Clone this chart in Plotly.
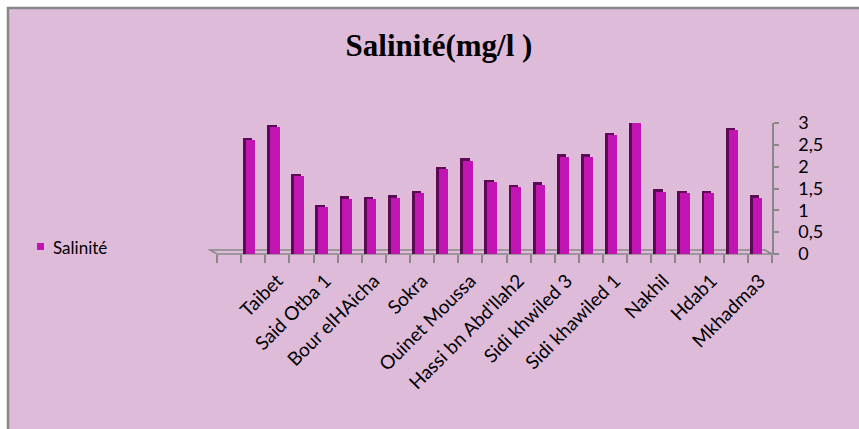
import plotly.graph_objects as go

# Sampling stations (every other name is printed on the axis)
stations = ["", "Taibet", "", "Said Otba 1", "", "Bour elHAicha", "", "Sokra",
            "", "Ouinet Moussa", "", "Hassi bn Abd'llah2", "", "Sidi khwiled 3",
            "", "Sidi khawiled 1", "", "Nakhil", "", "Hdab1", "", "Mkhadma3"]
salinity = [2.60, 2.90, 1.78, 1.08, 1.27, 1.25, 1.29, 1.40, 1.94, 2.14, 1.65,
            1.53, 1.59, 2.23, 2.23, 2.72, 3.00, 1.43, 1.39, 1.39, 2.83, 1.29]
y_ticks = [0, 0.5, 1, 1.5, 2, 2.5, 3]
series_name = "Salinité"

W, H = 859, 429
ML, MR, MT, MB = 217, 87, 123, 175
PW, PH = W - ML - MR, H - MT - MB

BG = "#DFBBDA"
BAR = "#C015B2"
BAR_SIDE = "#5C0A54"
GREY = "#888888"
SANS = "Lato"


def px(xp):
    return (xp - ML) / PW


def py(yp):
    return (H - MB - yp) / PH


x_pos = list(range(1, len(salinity) + 1))
depth = 0.05  # visible top/side face of the columns

fig = go.Figure()
fig.add_trace(go.Bar(
    x=x_pos, y=[v + depth for v in salinity], width=0.39, offset=-0.42,
    marker=dict(color=BAR_SIDE, line=dict(width=0)), showlegend=False,
    hoverinfo="skip"))
fig.add_trace(go.Bar(
    x=x_pos, y=salinity, width=0.39, offset=-0.30, name=series_name,
    marker=dict(color=BAR, line=dict(width=0)), showlegend=False))

shapes = [
    # chart area
    dict(type="rect", xref="paper", yref="paper", layer="below",
         x0=px(8), y0=py(8), x1=px(W + 30), y1=py(H + 30),
         fillcolor=BG, line=dict(color=GREY, width=2.5)),
    # floor of the plot
    dict(type="path", xref="paper", yref="paper", layer="below",
         path=(f"M {px(217)},{py(254)} L {px(772)},{py(254)} "
               f"L {px(765)},{py(250)} L {px(210)},{py(250)} Z"),
         line=dict(color=GREY, width=1.5)),
    # legend key
    dict(type="rect", xref="paper", yref="paper",
         x0=px(37), y0=py(250), x1=px(44), y1=py(243),
         fillcolor=BAR, line=dict(width=0)),
]

fig.update_layout(
    width=W, height=H,
    margin=dict(l=ML, r=MR, t=MT, b=MB),
    paper_bgcolor="white", plot_bgcolor="rgba(0,0,0,0)",
    separators=", ",
    barmode="overlay", bargap=0,
    showlegend=False,
    font=dict(family=SANS, size=17, color="black"),
    title=dict(text="<b>Salinité(mg/l )</b>", xref="container", yref="container",
               x=439 / W, y=1 - 45 / H, xanchor="center", yanchor="middle",
               font=dict(family="Liberation Serif", size=31, color="black")),
    shapes=shapes,
    annotations=[dict(text=series_name, xref="paper", yref="paper",
                      x=px(51), y=py(247), xanchor="left", yanchor="middle",
                      showarrow=False,
                      font=dict(family=SANS, size=17, color="black"))],
)

fig.update_xaxes(
    range=[-0.5, 22.5],
    tickvals=[x for x, s in zip(x_pos, stations) if s],
    ticktext=[s for s in stations if s],
    tickangle=-45, ticks="", showgrid=False, zeroline=False, showline=False,
    ticklabelstandoff=11,
    tickfont=dict(family=SANS, size=19, color="black"),
    minor=dict(tick0=-0.5, dtick=1, ticks="outside", ticklen=8,
               tickcolor=GREY, tickwidth=1.5, showgrid=False),
)
fig.update_yaxes(
    range=[0, 3], tickvals=y_ticks, side="right",
    showline=True, linecolor=GREY, linewidth=1.5,
    ticks="outside", ticklen=5, tickcolor=GREY, tickwidth=1.5,
    showgrid=False, zeroline=False, ticklabelstandoff=16,
    tickfont=dict(family=SANS, size=18, color="black"),
)

fig.write_html("out.html")
